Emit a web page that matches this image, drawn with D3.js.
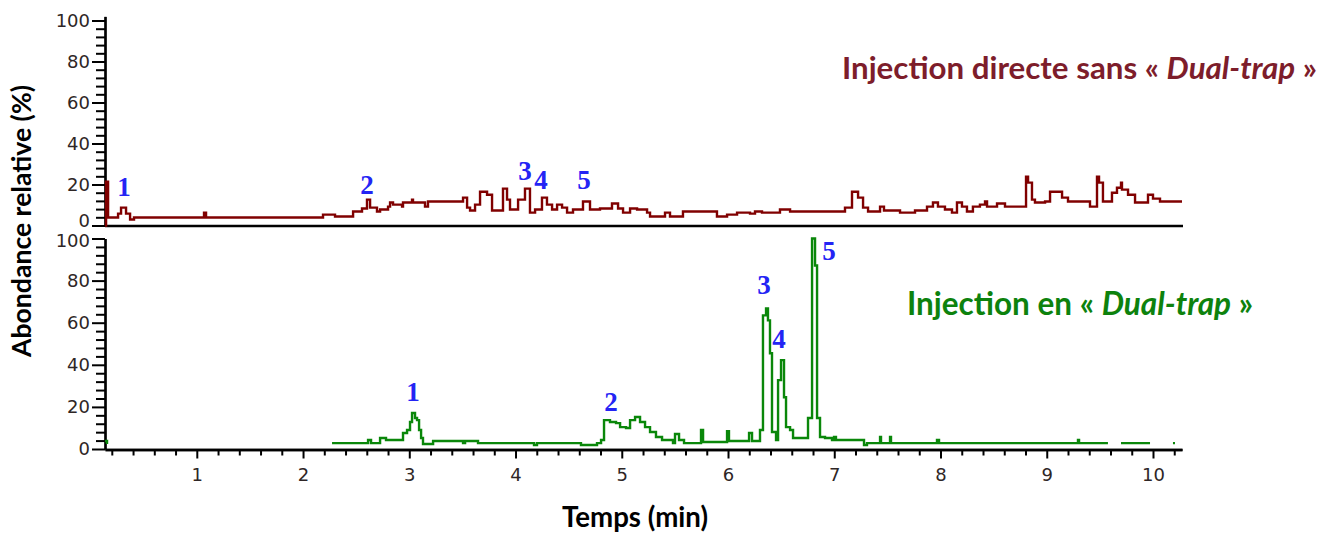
<!DOCTYPE html>
<html><head><meta charset="utf-8">
<script src="https://cdn.jsdelivr.net/npm/d3@7"></script>
<style>body{margin:0;background:#fff}svg{display:block}</style>
</head><body>
<svg id="c" width="1334" height="533"></svg>
<script>
// ---------- DATA ----------
// Top chromatogram: direct injection (time in min, relative abundance %)
const topTime = [0.136,0.146,0.165,0.259,0.287,0.334,0.372,0.409,1.068,1.087,2.188,2.301,2.471,2.555,2.602,2.631,2.696,2.725,2.800,2.819,2.847,2.932,2.941,3.026,3.035,3.148,3.176,3.384,3.506,3.544,3.572,3.619,3.666,3.732,3.779,3.882,3.920,3.948,4.024,4.089,4.136,4.184,4.249,4.296,4.344,4.391,4.438,4.485,4.541,4.635,4.701,4.795,4.908,4.965,5.012,5.078,5.144,5.238,5.266,5.407,5.454,5.576,5.896,5.991,6.085,6.207,6.254,6.320,6.489,6.584,7.101,7.167,7.224,7.271,7.318,7.431,7.468,7.619,7.760,7.873,7.929,7.976,8.042,8.108,8.155,8.202,8.249,8.305,8.371,8.419,8.438,8.532,8.607,8.805,8.824,8.861,8.889,8.984,9.031,9.144,9.200,9.407,9.473,9.492,9.529,9.614,9.661,9.699,9.708,9.765,9.831,9.953,10.000,10.066,10.273];
const topValue = [0,21.4,3.9,5.8,8.7,5.8,2.9,3.9,6.3,3.9,5.3,4.4,6.8,8.3,12.6,8.7,6.8,7.8,9.2,11.2,10.2,9.2,11.2,12.6,11.2,9.2,11.7,11.7,13.6,8.7,7.3,10.2,16.5,15.0,7.3,18.0,12.6,7.8,12.6,18.0,6.3,7.8,13.6,10.2,7.8,10.2,8.7,6.3,7.8,11.7,7.8,8.3,10.7,8.3,6.3,8.3,7.8,6.3,4.4,6.3,4.4,6.8,4.4,5.3,6.3,5.8,6.8,6.3,7.8,6.8,8.7,16.5,13.6,8.7,6.8,9.2,7.3,6.3,7.3,9.2,11.2,9.2,7.8,6.3,11.2,9.2,6.8,9.2,10.2,11.7,9.2,10.7,9.2,23.8,20.9,12.6,11.2,11.7,16.5,13.6,11.7,9.2,23.8,20.9,11.7,16.0,18.4,20.9,17.5,15.0,11.2,15.0,13.1,11.7,11.7];

// Bottom chromatogram: Dual-trap injection (null = no signal drawn)
const bottomTime = [0.136,0.155,0.16,2.273,2.612,2.640,2.725,2.781,2.941,2.979,3.007,3.026,3.054,3.073,3.092,3.111,3.129,3.224,3.506,3.525,3.647,4.174,4.202,4.616,4.767,4.805,4.833,4.889,4.946,4.984,5.040,5.078,5.125,5.172,5.219,5.266,5.322,5.379,5.482,5.501,5.539,5.586,5.746,5.765,5.991,6.009,6.198,6.226,6.301,6.329,6.358,6.376,6.395,6.414,6.452,6.471,6.499,6.527,6.546,6.584,6.612,6.753,6.791,6.819,6.838,6.866,6.913,6.979,6.998,7.016,7.280,7.308,7.431,7.440,7.525,7.534,7.967,7.986,9.294,9.304,9.576,9.58,9.699,9.972,9.98,10.188,10.207];
const bottomValue = [3.8,2.4,null,2.8,4.3,2.8,5.2,4.3,7.6,9.0,12.8,17.1,14.7,13.7,9.0,5.2,2.4,3.8,2.8,3.8,2.8,1.9,2.8,1.9,2.8,4.3,13.7,12.8,12.3,10.4,10.0,13.7,15.2,12.8,10.4,8.1,5.7,4.3,2.8,7.1,4.3,2.8,9.0,3.3,8.5,3.8,7.6,3.8,9.0,63.5,66.8,61.1,45.5,8.1,4.3,32.7,42.2,24.6,10.4,9.0,5.2,14.7,100,87.2,14.7,5.7,5.2,4.3,5.7,4.3,1.9,2.8,5.7,2.8,5.7,2.8,4.3,2.8,4.3,2.8,2.8,null,2.8,2.8,null,2.8,2.8];

const xTickValues = [1,2,3,4,5,6,7,8,9,10];
const yTickValues = [0,20,40,60,80,100];

const peakNames = ["1","2","3","4","5"];
const topPeakTime = [0.315,2.602,4.089,4.24,4.645];
const topPeakLevel = [18.8,19.8,26.6,22.2,22.2];
const bottomPeakTime = [3.035,4.899,6.339,6.48,6.951];
const bottomPeakLevel = [27.1,22.3,77.9,52.3,94.1];

const xTitle = "Temps (min)";
const yTitle = "Abondance relative (%)";
const topLabelParts = ["Injection directe sans « ", "Dual-trap", " »"];
const bottomLabelParts = ["Injection en « ", "Dual-trap", " »"];

// ---------- CHART ----------
const svg = d3.select("#c");
const x = d3.scaleLinear().domain([0.136, 10.273]).range([105, 1182]);
const yTop = d3.scaleLinear().domain([0, 102]).range([225.5, 16.4]);
const yBot = d3.scaleLinear().domain([0, 100]).range([449, 238.5]);

const tickFont = "'DejaVu Sans', sans-serif";
const tickColor = "#2e2626";

function yAxis(scale, maxV) {
  const g = svg.append("g").attr("transform", "translate(105,0)");
  const minor = d3.range(0, maxV + 0.01, 4).filter(v => v % 20 !== 0);
  g.append("g").call(d3.axisLeft(scale).tickValues(minor).tickFormat("").tickSize(9).tickSizeOuter(0));
  g.append("g").attr("class", "major").call(d3.axisLeft(scale).tickValues(yTickValues).tickSize(13).tickSizeOuter(0).tickPadding(2));
  g.selectAll("path.domain").attr("stroke", "#000").attr("stroke-width", 2.2);
  g.selectAll(".tick line").attr("stroke", "#000").attr("stroke-width", 2);
  g.selectAll(".tick text").attr("font-family", tickFont).attr("font-size", 18).attr("fill", tickColor);
  return g;
}
const gyt = yAxis(yTop, 102);
// the reference draws the top panel "0" label slightly above its tick
gyt.selectAll(".major .tick text").filter(d => d === 0).attr("y", -5);
const gyb = yAxis(yBot, 100);
gyb.selectAll(".major .tick text").filter(d => d === 100).attr("y", 2);

// top panel baseline
svg.append("line").attr("x1", 105).attr("x2", 1183).attr("y1", yTop(0) + 0.5).attr("y2", yTop(0) + 0.5)
  .attr("stroke", "#000").attr("stroke-width", 2.4);

// bottom x axis
const gx = svg.append("g").attr("transform", `translate(0,${yBot(0) + 0.5})`);
const xMinor = d3.range(1, 52).map(i => i * 0.2).filter(v => Math.abs(v - Math.round(v)) > 1e-6 && v <= 10.27);
gx.append("g").call(d3.axisBottom(x).tickValues(xMinor).tickFormat("").tickSize(6).tickSizeOuter(0));
gx.append("g").call(d3.axisBottom(x).tickValues(xTickValues).tickFormat(d3.format("d")).tickSize(9).tickSizeOuter(0).tickPadding(10));
gx.selectAll("path.domain").attr("stroke", "#000").attr("stroke-width", 2.4);
gx.selectAll(".tick line").attr("stroke", "#000").attr("stroke-width", 2);
gx.selectAll(".tick text").attr("font-family", tickFont).attr("font-size", 18).attr("fill", tickColor);

// traces
const topData = topTime.map((t, i) => [t, topValue[i]]);
const botData = bottomTime.map((t, i) => [t, bottomValue[i]]);
const lineTop = d3.line().defined(d => d[1] != null).x(d => x(d[0])).y(d => yTop(d[1])).curve(d3.curveStepAfter);
const lineBot = d3.line().defined(d => d[1] != null).x(d => x(d[0])).y(d => yBot(d[1])).curve(d3.curveStepAfter);
svg.append("path").attr("d", lineTop(topData)).attr("fill", "none").attr("stroke", "#800000").attr("stroke-width", 2.4);
svg.append("path").attr("d", lineBot(botData)).attr("fill", "none").attr("stroke", "#0a870a").attr("stroke-width", 2.4);

// peak labels
const peakFont = "'Liberation Serif', 'Times New Roman', serif";
function peaks(times, levels, scale) {
  svg.append("g").selectAll("text").data(peakNames).join("text")
    .attr("x", (d, i) => x(times[i])).attr("y", (d, i) => scale(levels[i]))
    .attr("text-anchor", "middle").attr("dominant-baseline", "central")
    .attr("font-family", peakFont).attr("font-weight", "bold").attr("font-size", 27)
    .attr("fill", "#2424f4").text(d => d);
}
peaks(topPeakTime, topPeakLevel, yTop);
peaks(bottomPeakTime, bottomPeakLevel, yBot);

// titles
const titleFont = "Lato, 'Open Sans', sans-serif";
function fit(sel, w) {
  let fs = +sel.attr("font-size");
  for (let k = 0; k < 3; k++) {
    const cur = sel.node().getComputedTextLength();
    fs = fs * w / cur;
    sel.attr("font-size", fs);
  }
}
const xt = svg.append("text").attr("x", 635).attr("y", 527).attr("text-anchor", "middle")
  .attr("font-family", titleFont).attr("font-weight", "bold").attr("font-size", 22).attr("fill", "#000").text(xTitle);
fit(xt, 146);
const yt = svg.append("text").attr("transform", "translate(31,221) rotate(-90)").attr("text-anchor", "middle")
  .attr("font-family", titleFont).attr("font-weight", "bold").attr("font-size", 22).attr("fill", "#000").text(yTitle);
fit(yt, 272);

function label(parts, xPos, yPos, w, color) {
  const t = svg.append("text").attr("x", xPos).attr("y", yPos)
    .attr("font-family", titleFont).attr("font-weight", "bold").attr("font-size", 26).attr("fill", color);
  parts.forEach((p, i) => t.append("tspan").attr("font-style", i === 1 ? "italic" : "normal").text(p));
  fit(t, w);
}
label(topLabelParts, 842, 79, 475, "#7d1d2b");
label(bottomLabelParts, 907, 315, 346, "#0d820d");
</script>
</body></html>
